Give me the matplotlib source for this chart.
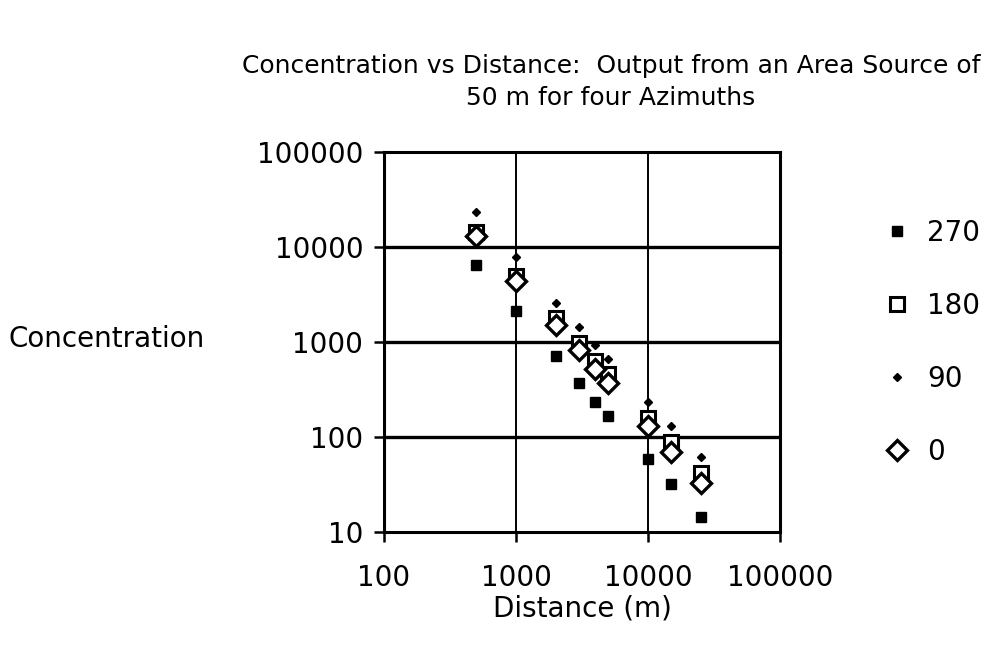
import matplotlib
matplotlib.use("Agg")
import matplotlib.pyplot as plt
from matplotlib.ticker import FixedLocator, NullLocator, FixedFormatter

plt.rcParams['font.family'] = ['DejaVu Sans']

# ---- data ----
distances = [500, 1000, 2000, 3000, 4000, 5000, 10000, 15000, 25000]
az270 = [6500, 2100, 720, 370, 235, 165, 58, 32, 14.5]
az180 = [14500, 5000, 1800, 980, 630, 460, 160, 88, 42]
az90 = [23500, 7900, 2600, 1450, 920, 660, 235, 130, 62]
az0 = [13000, 4400, 1500, 820, 520, 370, 130, 70, 33]

x_ticks = [100, 1000, 10000, 100000]
x_ticklabels = ["100", "1000", "10000", "100000"]
y_ticks = [10, 100, 1000, 10000, 100000]
y_ticklabels = ["10", "100", "1000", "10000", "100000"]

series_labels = ["270", "180", "90", "0"]

title = "Concentration vs Distance:  Output from an Area Source of\n50 m for four Azimuths"
xlabel = "Distance (m)"
ylabel = "Concentration"

W, H = 997, 648
fig = plt.figure(figsize=(W / 100, H / 100), dpi=100)
fig.patch.set_facecolor("white")

left, right, top, bottom = 384, 780, 152, 532
ax = fig.add_axes([left / W, 1 - bottom / H, (right - left) / W, (bottom - top) / H])
ax.set_xscale("log")
ax.set_yscale("log")
ax.set_xlim(100, 100000)
ax.set_ylim(10, 100000)

# gridlines
for yv in y_ticks[1:-1]:
    ax.axhline(yv, color="black", lw=2.4, zorder=1)
for xv in x_ticks[1:-1]:
    ax.axvline(xv, color="black", lw=1.4, zorder=1)

for s in ax.spines.values():
    s.set_linewidth(2.2)
    s.set_color("black")

ax.xaxis.set_major_locator(FixedLocator(x_ticks))
ax.xaxis.set_major_formatter(FixedFormatter(x_ticklabels))
ax.yaxis.set_major_locator(FixedLocator(y_ticks))
ax.yaxis.set_major_formatter(FixedFormatter(y_ticklabels))
ax.xaxis.set_minor_locator(NullLocator())
ax.yaxis.set_minor_locator(NullLocator())
ax.tick_params(axis="both", which="major", direction="out", length=7, width=1.8,
               labelsize=20, colors="black")
ax.tick_params(axis="x", pad=16)
ax.tick_params(axis="y", pad=8)

h270, = ax.plot(distances, az270, ls="none", marker="s", ms=6.5, mfc="black",
                mec="black", zorder=3, label=series_labels[0])
h180, = ax.plot(distances, az180, ls="none", marker="s", ms=10, mfc="white",
                mec="black", mew=2.2, zorder=4, label=series_labels[1])
h90, = ax.plot(distances, az90, ls="none", marker="D", ms=4.5, mfc="black",
               mec="black", zorder=3, label=series_labels[2])
h0, = ax.plot(distances, az0, ls="none", marker="D", ms=10, mfc="white",
              mec="black", mew=2.4, zorder=5, label=series_labels[3])

leg = ax.legend(handles=[h270, h180, h90, h0], loc="upper left",
                bbox_to_anchor=(883 / W, 1 - 219 / H), bbox_transform=fig.transFigure,
                frameon=False, fontsize=20, labelspacing=1.62, handlelength=1.0,
                handletextpad=0.6, borderpad=0, borderaxespad=0)

fig.text(611 / W, 1 - 82 / H, title, ha="center", va="center", fontsize=18,
         linespacing=1.45)
fig.text(582 / W, 1 - 608 / H, xlabel, ha="center", va="center", fontsize=20)
fig.text(8 / W, 1 - 339 / H, ylabel, ha="left", va="center", fontsize=20)

fig.savefig("out.png", dpi=100, facecolor="white")
